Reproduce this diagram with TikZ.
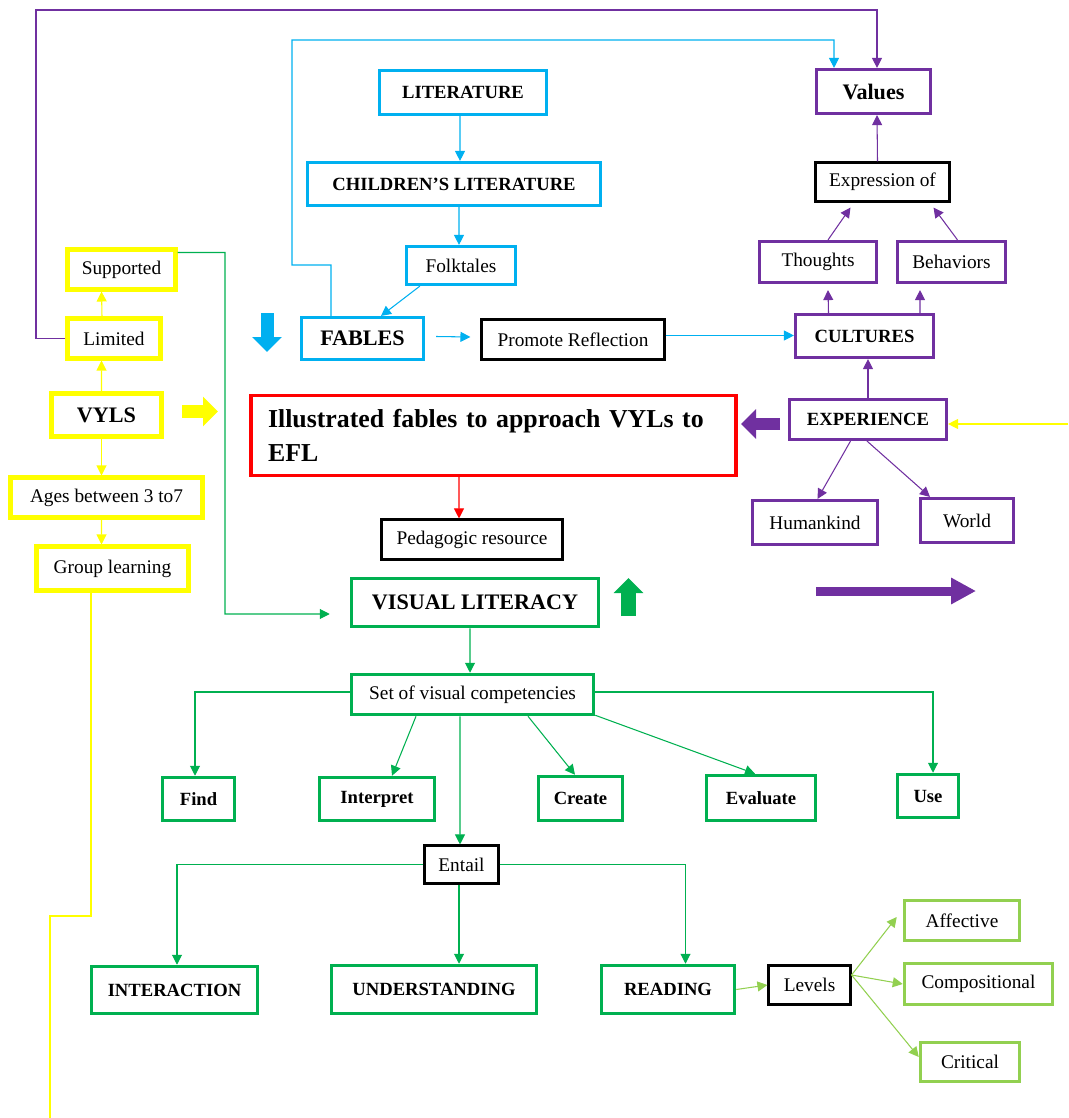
\documentclass[tikz,border=0pt]{standalone}
\usepackage{fontspec}
\setmainfont{Liberation Serif}
\usetikzlibrary{arrows.meta}

\definecolor{vyellow}{RGB}{255,255,0}
\definecolor{vblue}{RGB}{0,176,240}
\definecolor{vpurple}{RGB}{112,48,160}
\definecolor{vgreen}{RGB}{0,176,80}
\definecolor{vlime}{RGB}{146,208,80}
\definecolor{vred}{RGB}{255,0,0}

\tikzset{
  box/.style={draw, rectangle, inner sep=2pt, text=black, font=\fontsize{11}{13}\selectfont},
  sz/.style 2 args={minimum width=(#1-3)*0.02cm, minimum height=(#2-3)*0.02cm},
  hd/.style={font=\bfseries\fontsize{10.6}{13}\selectfont},
  big/.style={font=\bfseries\fontsize{12.6}{15}\selectfont},
  ybox/.style={box, draw=vyellow, line width=2.3pt},
  bbox/.style={box, draw=vblue, line width=1.8pt},
  pbox/.style={box, draw=vpurple, line width=1.8pt},
  gbox/.style={box, draw=vgreen, line width=2pt},
  lbox/.style={box, draw=vlime, line width=2pt},
  kbox/.style={box, draw=black, line width=1.2pt},
  rbox/.style={box, draw=vred, line width=1.8pt},
  link/.style={line width=0.6pt, -{Triangle[length=0.2cm,width=0.2cm]}},
  fat/.style={line width=0.26cm, -{Triangle[length=0.3cm,width=0.58cm]}}
}

\begin{document}
\begin{tikzpicture}[x=0.02cm, y=-0.02cm]
  \useasboundingbox (0,0) rectangle (1068,1118);

  % VYLs column
  \node[ybox, sz={111}{43}] (sup) at (121.5,269.5) {Supported};
  \node[ybox, sz={96}{43}] (lim) at (114,338.5) {Limited};
  \node[ybox, big, sz={113}{46}] (vyls) at (106.5,415) {VYLS};
  \node[ybox, sz={195}{43}] (ages) at (106.5,497.5) {Ages between 3 to7};
  \node[ybox, sz={155}{47}] (grp) at (112.5,568.5) {Group learning};

  \draw[link, vyellow] ([xshift=-0.24cm]lim.north) -- ([xshift=-0.4cm]sup.south);
  \draw[link, vyellow] ([xshift=-0.1cm]vyls.north) -- ([xshift=-0.25cm]lim.south);
  \draw[link, vyellow] ([xshift=-0.1cm]vyls.south) -- ([xshift=-0.1cm]ages.north);
  \draw[link, vyellow] ([xshift=-0.1cm]ages.south) -- ([xshift=-0.22cm]grp.north);
  \coordinate (yend) at (50,1118);
  \draw[vyellow, line width=0.6pt] ([xshift=-0.43cm]grp.south) |- (50,916) -- (yend);

  % literature column
  \node[bbox, hd, sz={170}{47}] (lit) at (463,92.5) {LITERATURE};
  \node[bbox, hd, sz={296}{46}] (chl) at (454,184) {CHILDREN'S LITERATURE};
  \node[bbox, sz={112}{41}] (folk) at (461,265.5) {Folktales};
  \node[bbox, big, sz={125}{45}] (fab) at (362.5,338.5) {FABLES};
  \node[kbox, sz={186}{43}] (prom) at (573,339.5) {Promote Reflection};

  \draw[link, vblue] ([xshift=-0.06cm]lit.south) -- ([xshift=0.12cm]chl.north);
  \draw[link, vblue] ([xshift=0.1cm]chl.south) -- ([xshift=-0.04cm]folk.north);
  \draw[link, vblue] ([xshift=0.3cm]folk.south west) -- ([xshift=0.37cm]fab.north);
  \draw[link, vblue] ([xshift=0.22cm,yshift=0.04cm]fab.east) -- ([xshift=-0.2cm,yshift=0.05cm]prom.west);

  % values and cultures
  \node[pbox, big, sz={117}{47}] (val) at (873.5,91.5) {Values};
  \node[kbox, sz={137}{42}] (expr) at (882.5,182) {Expression of};
  \node[pbox, sz={120}{44}] (tho) at (818,262) {Thoughts};
  \node[pbox, sz={111}{44}] (beh) at (951.5,262) {Behaviors};
  \node[pbox, hd, sz={141}{46}] (cult) at (864.5,336) {CULTURES};
  \node[pbox, hd, sz={160}{43}] (exp) at (868,419.5) {EXPERIENCE};
  \node[pbox, sz={128}{47}] (hum) at (815,522.5) {Humankind};
  \node[pbox, sz={96}{47}] (wor) at (967,520.5) {World};

  \draw[link, vblue] ([yshift=0.08cm]prom.east) -- ([yshift=0.08cm]prom.east -| cult.west);
  \draw[link, vpurple] ([xshift=-0.1cm]expr.north) -- ([xshift=0.07cm]val.south);
  \draw[link, vpurple] ([xshift=0.2cm]tho.north) -- ([xshift=-0.64cm,yshift=-0.1cm]expr.south);
  \draw[link, vpurple] ([xshift=0.12cm]beh.north) -- ([xshift=1.02cm,yshift=-0.1cm]expr.south);
  \draw[link, vpurple] ([xshift=-0.72cm]cult.north) -- ([xshift=0.2cm,yshift=-0.12cm]tho.south);
  \draw[link, vpurple] ([xshift=1.11cm]cult.north) -- ([xshift=-0.63cm,yshift=-0.12cm]beh.south);
  \draw[link, vpurple] (exp.north) -- (exp.north |- cult.south);
  \draw[link, vpurple] ([xshift=-0.35cm]exp.south) -- ([xshift=0.05cm]hum.north);
  \draw[link, vpurple] ([xshift=-0.02cm]exp.south) -- ([xshift=-0.74cm]wor.north);
  \coordinate (yin) at (1068,424);
  \draw[link, vyellow] (yin) -- (exp.east |- yin);

  % long connectors into Values
  \draw[link, vpurple] (lim.west) -| (36,10) -| ([xshift=0.07cm]val.north);
  \draw[link, vblue] ([xshift=-0.63cm]fab.north) |- (292,265) |- (834,40)
    -- ([xshift=-0.79cm]val.north);

  % central topic
  \node[rbox, text width=9.02cm, align=left, inner xsep=0.34cm, minimum height=1.6cm,
    font=\bfseries\fontsize{14.7}{19}\selectfont] (ill) at (493.5,435.5)
    {Illustrated fables to approach VYLs to\\EFL};
  \node[kbox, sz={184}{43}] (ped) at (472,539.5) {Pedagogic resource};
  \draw[link, vred] ([xshift=-0.69cm]ill.south) -- ([xshift=-0.26cm]ped.north);

  % visual literacy
  \node[gbox, big, sz={250}{51}] (vl) at (475,602.5) {VISUAL LITERACY};
  \node[gbox, sz={245}{43}] (set) at (472.5,694.5) {Set of visual competencies};
  \draw[link, vgreen] ([yshift=-0.1cm]sup.north east) -| (225,614)
    -- ([xshift=-0.4cm,yshift=-0.23cm]vl.west);
  \draw[link, vgreen] ([xshift=-0.1cm]vl.south) -- ([xshift=-0.05cm]set.north);

  \node[gbox, hd, sz={75}{46}] (find) at (198.5,799) {Find};
  \node[gbox, hd, sz={118}{46}] (intp) at (377,799) {Interpret};
  \node[gbox, hd, sz={87}{47}] (crt) at (580.5,798.5) {Create};
  \node[gbox, hd, sz={112}{48}] (eval) at (761,798) {Evaluate};
  \node[gbox, hd, sz={64}{46}] (use) at (928,796) {Use};

  \draw[link, vgreen] ([yshift=0.05cm]set.west) -| ([xshift=-0.07cm]find.north);
  \draw[link, vgreen] ([yshift=0.05cm]set.east) -| ([xshift=0.1cm]use.north);
  \draw[link, vgreen] ([xshift=-1.13cm]set.south) -- ([xshift=0.3cm]intp.north);
  \draw[link, vgreen] ([xshift=1.11cm]set.south) -- ([xshift=-0.11cm]crt.north);
  \draw[link, vgreen] ([yshift=0.02cm]set.south east) -- ([xshift=-0.12cm]eval.north);

  % entail
  \node[kbox, sz={77}{41}] (ent) at (461.5,864.5) {Entail};
  \draw[link, vgreen] ([xshift=-0.25cm]set.south) -- ([xshift=-0.03cm]ent.north);

  \node[gbox, hd, sz={169}{50}] (inter) at (174.5,990) {INTERACTION};
  \node[gbox, hd, sz={208}{51}] (und) at (434,989.5) {UNDERSTANDING};
  \node[gbox, hd, sz={136}{51}] (read) at (668,989.5) {READING};

  \draw[link, vgreen] (ent.west) -| ([xshift=0.05cm]inter.north);
  \draw[link, vgreen] ([xshift=-0.05cm]ent.south) -- ([xshift=-0.05cm]ent.south |- und.north);
  \draw[link, vgreen] (ent.east) -| ([xshift=0.35cm]read.north);

  % reading levels
  \node[kbox, sz={85}{42}] (lev) at (809.5,985) {Levels};
  \node[lbox, sz={118}{43}] (aff) at (962,920.5) {Affective};
  \node[lbox, sz={151}{44}] (comp) at (978.5,984) {Compositional};
  \node[lbox, sz={102}{42}] (crit) at (970,1062) {Critical};

  \draw[link, vlime] (read.east) -- (lev.west);
  \draw[link, vlime] ([yshift=0.2cm]lev.east) -- ([xshift=-0.12cm,yshift=0.07cm]aff.west);
  \draw[link, vlime] ([yshift=0.2cm]lev.east) -- (comp.west);
  \draw[link, vlime] ([yshift=0.2cm]lev.east) -- ([yshift=0.1cm]crit.west);

  % block arrows
  \draw[fat, vblue] (267,313) -- (267,352);
  \draw[fat, vyellow] (182,411.5) -- (218,411.5);
  \draw[fat, vpurple, line width=0.24cm] (780,424) -- (741,424);
  \draw[fat, vgreen, line width=0.3cm] (628.5,616) -- (628.5,578);
  \draw[vpurple, line width=0.18cm, -{Triangle[length=0.5cm,width=0.5cm]}] (816,591) -- (976,591);
\end{tikzpicture}
\end{document}
